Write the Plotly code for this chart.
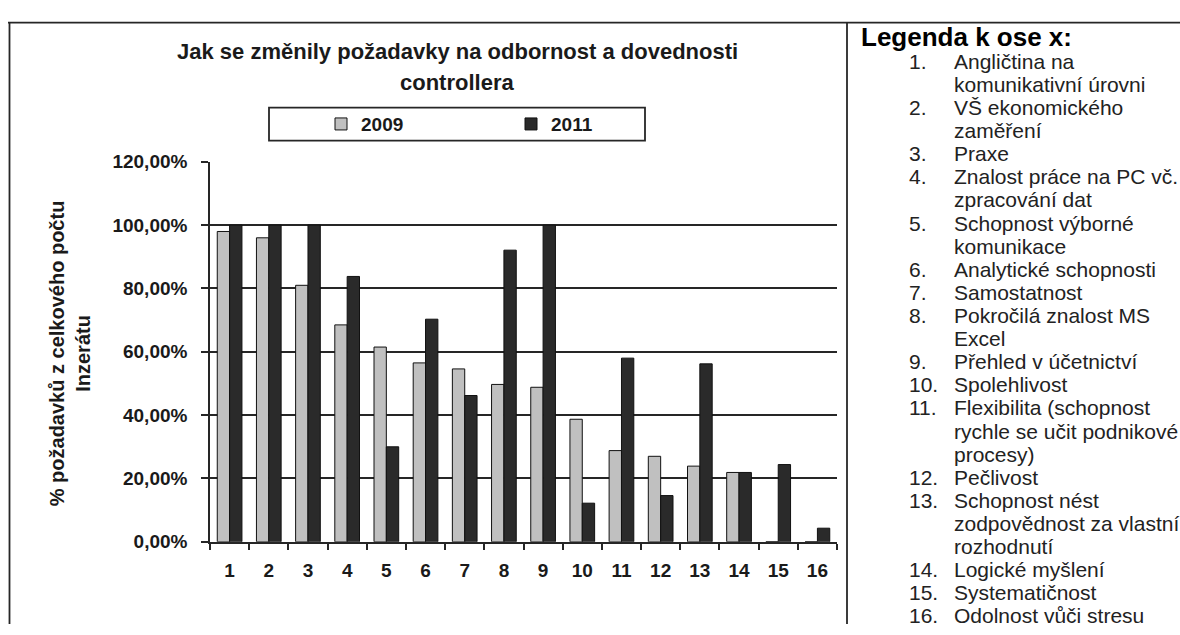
import plotly.graph_objects as go

# ---- data -------------------------------------------------------------
categories = [str(i) for i in range(1, 17)]
share_2009 = [0.98, 0.96, 0.81, 0.685, 0.615, 0.565, 0.546, 0.497,
              0.488, 0.387, 0.288, 0.270, 0.239, 0.219, 0.0, 0.0]
share_2011 = [1.00, 1.00, 1.00, 0.838, 0.300, 0.703, 0.462, 0.921,
              1.00, 0.122, 0.580, 0.146, 0.562, 0.219, 0.244, 0.043]
y_ticks = [0.0, 0.2, 0.4, 0.6, 0.8, 1.0, 1.2]

title_lines = ["Jak se změnily požadavky na odbornost a dovednosti", "controllera"]
y_title = "% požadavků z celkového počtu<br>Inzerátu"

key_title = "Legenda k ose x:"
key_lines = [
    ("1.", "Angličtina na"),
    ("", "komunikativní úrovni"),
    ("2.", "VŠ ekonomického"),
    ("", "zaměření"),
    ("3.", "Praxe"),
    ("4.", "Znalost práce na PC vč."),
    ("", "zpracování dat"),
    ("5.", "Schopnost výborné"),
    ("", "komunikace"),
    ("6.", "Analytické schopnosti"),
    ("7.", "Samostatnost"),
    ("8.", "Pokročilá znalost MS"),
    ("", "Excel"),
    ("9.", "Přehled v účetnictví"),
    ("10.", "Spolehlivost"),
    ("11.", "Flexibilita (schopnost"),
    ("", "rychle se učit podnikové"),
    ("", "procesy)"),
    ("12.", "Pečlivost"),
    ("13.", "Schopnost nést"),
    ("", "zodpovědnost za vlastní"),
    ("", "rozhodnutí"),
    ("14.", "Logické myšlení"),
    ("15.", "Systematičnost"),
    ("16.", "Odolnost vůči stresu"),
]

# ---- page geometry helpers (pixel -> paper) ---------------------------
W, H = 1180, 635


def px(x):
    return x / W


def py(y):
    return 1 - y / H


FONT = "Liberation Sans, Arial, sans-serif"
INK = "#1a1a1a"
LINE = "#262626"

fig = go.Figure()
fig.add_trace(go.Bar(
    x=categories, y=share_2009, name="2009",
    marker=dict(color="#c0c0c0", line=dict(color="#111111", width=1)),
))
fig.add_trace(go.Bar(
    x=categories, y=share_2011, name="2011",
    marker=dict(color="#2a2a2a", line=dict(color="#111111", width=1)),
))

fig.update_layout(
    width=W, height=H, autosize=False,
    margin=dict(l=0, r=0, t=0, b=0, pad=0),
    paper_bgcolor="white", plot_bgcolor="white",
    separators=", ",
    barmode="group", bargap=0.37, bargroupgap=0.0,
    font=dict(family=FONT, color=INK),
    showlegend=True,
    legend=dict(
        orientation="h",
        x=px(321), y=py(118), xanchor="left", yanchor="middle",
        xref="paper", yref="paper",
        bgcolor="rgba(0,0,0,0)", borderwidth=0,
        entrywidth=145, entrywidthmode="pixels",
        font=dict(family=FONT, size=19, weight="bold", color=INK),
        itemclick=False, itemdoubleclick=False,
    ),
    xaxis=dict(
        domain=[px(210), px(837)],
        type="category",
        tickson="boundaries",
        ticks="outside", ticklen=6, tickwidth=1.5, tickcolor=LINE,
        showline=True, linecolor=LINE, linewidth=1.5,
        showgrid=False,
        tickfont=dict(family=FONT, size=19, weight="bold", color=INK),
        ticklabelstandoff=11,
    ),
    yaxis=dict(
        domain=[py(550), py(157)],
        range=[0, 1.2],
        tickmode="array", tickvals=y_ticks,
        tickformat=".2%",
        ticks="outside", ticklen=7, tickwidth=1.5, tickcolor=LINE,
        showline=True, linecolor=LINE, linewidth=1.5,
        showgrid=True, gridcolor=LINE, gridwidth=1.5,
        zeroline=False,
        tickfont=dict(family=FONT, size=19, weight="bold", color=INK),
        ticklabelstandoff=10,
    ),
)

annotations = []
# chart title, one annotation per line
for text, yc in zip(title_lines, [43, 75]):
    annotations.append(dict(
        text=text, x=px(457), y=py(yc), xref="paper", yref="paper",
        xanchor="center", yanchor="middle", showarrow=False,
        font=dict(family=FONT, size=22, weight="bold", color=INK),
    ))
# y-axis title, rotated
annotations.append(dict(
    text=y_title, x=px(70), y=py(355), xref="paper", yref="paper",
    xanchor="center", yanchor="middle", showarrow=False, textangle=-90,
    align="center",
    font=dict(family=FONT, size=20, weight="bold", color=INK),
))
# key panel on the right
annotations.append(dict(
    text=key_title, x=px(859), y=py(28), xref="paper", yref="paper",
    xanchor="left", yanchor="middle", showarrow=False,
    font=dict(family=FONT, size=26, weight="bold", color="#000000"),
))
for i, (num, label) in enumerate(key_lines):
    yc = 53 + i * 23.9
    if num:
        annotations.append(dict(
            text=num, x=px(907), y=py(yc), xref="paper", yref="paper",
            xanchor="left", yanchor="middle", showarrow=False,
            font=dict(family=FONT, size=21, color="#222222"),
        ))
    annotations.append(dict(
        text=label, x=px(952), y=py(yc), xref="paper", yref="paper",
        xanchor="left", yanchor="middle", showarrow=False,
        font=dict(family=FONT, size=21, color="#222222"),
    ))
fig.update_layout(annotations=annotations)

# frame lines and the legend box
shapes = [
    dict(type="line", x0=px(8), x1=1, y0=py(13), y1=py(13)),
    dict(type="line", x0=px(9.5), x1=px(9.5), y0=py(13), y1=0),
    dict(type="line", x0=px(847), x1=px(847), y0=py(13), y1=0),
    dict(type="rect", x0=px(269), x1=px(645), y0=py(101), y1=py(135)),
]
for s in shapes:
    s.update(xref="paper", yref="paper", line=dict(color=LINE, width=1.8))
fig.update_layout(shapes=shapes)

fig.write_html("out.html")
